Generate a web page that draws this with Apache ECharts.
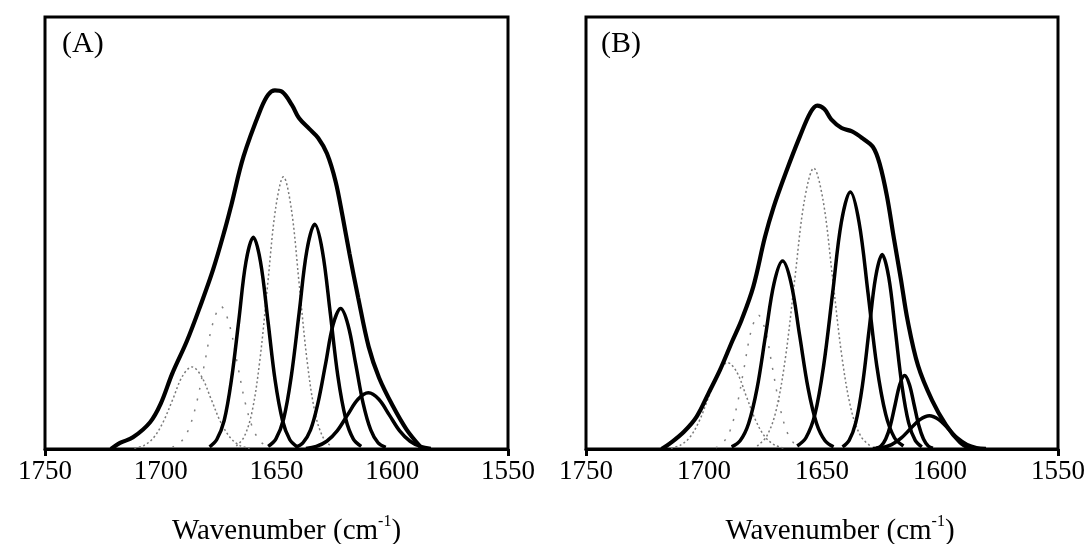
<!DOCTYPE html>
<html>
<head>
<meta charset="utf-8">
<script src="https://cdn.jsdelivr.net/npm/echarts@6/dist/echarts.min.js"></script>
<style>html,body{margin:0;padding:0;background:#fff}#c{width:1087px;height:544px}</style>
</head>
<body>
<div id="c"></div>
<script>
// ---- data (wavenumber, relative absorbance) ----
const xTicks = [1750, 1700, 1650, 1600, 1550];
const panelLabels = ['(A)', '(B)'];
const axisTitle = ['Wavenumber (cm', '-1', ')'];

// Panel A
const aEnvelope = [[1721.5,0],[1717.6,0.014],[1712,0.027],[1704.6,0.062],[1700,0.105],[1695,0.175],[1688.7,0.25],[1683,0.33],[1677.4,0.415],[1672.2,0.51],[1669.5,0.565],[1664.3,0.676],[1656.7,0.788],[1653.6,0.82],[1650.7,0.83],[1647.6,0.827],[1643.3,0.796],[1640.3,0.766],[1635.8,0.741],[1632,0.72],[1628.2,0.684],[1624.5,0.62],[1621.5,0.54],[1618.5,0.453],[1614.7,0.35],[1610.2,0.237],[1605.7,0.165],[1599.8,0.10],[1593.8,0.045],[1587.8,0.005]];
const aBand1686 = [[1711.4,0.002],[1707.3,0.008],[1703.1,0.026],[1699.0,0.062],[1694.8,0.115],[1690.7,0.168],[1686.5,0.19],[1682.4,0.168],[1678.2,0.115],[1674.1,0.062],[1669.9,0.026],[1665.8,0.008],[1661.6,0.002]];
const aBand1674 = [[1695,0.004],[1691.5,0.015],[1688,0.045],[1684.5,0.107],[1681,0.2],[1677.5,0.291],[1674,0.33],[1670.5,0.291],[1667,0.2],[1663.5,0.107],[1660,0.045],[1656.5,0.015],[1653,0.004]];
const aBand1660 = [[1678.9,0.005],[1675.8,0.022],[1672.6,0.066],[1669.5,0.159],[1666.3,0.297],[1663.2,0.433],[1660,0.49],[1656.9,0.433],[1653.7,0.297],[1650.6,0.159],[1647.4,0.066],[1644.3,0.022],[1641.1,0.005]];
const aBand1647 = [[1667.4,0.007],[1664,0.028],[1660.6,0.085],[1657.2,0.205],[1653.8,0.382],[1650.4,0.556],[1647,0.63],[1643.6,0.556],[1640.2,0.382],[1636.8,0.205],[1633.4,0.085],[1630,0.028],[1626.6,0.007]];
const aBand1633 = [[1653.6,0.006],[1650.3,0.023],[1646.9,0.070],[1643.6,0.169],[1640.2,0.316],[1636.9,0.459],[1633.5,0.52],[1630.2,0.459],[1626.8,0.316],[1623.5,0.169],[1620.1,0.070],[1616.8,0.023],[1613.4,0.006]];
const aBand1622 = [[1641.8,0.004],[1638.6,0.014],[1635.3,0.044],[1632.1,0.106],[1628.8,0.197],[1625.6,0.287],[1622.3,0.325],[1619.1,0.287],[1615.8,0.197],[1612.6,0.106],[1609.3,0.044],[1606.1,0.014],[1602.8,0.004]];
const aBand1610 = [[1637.3,0.001],[1632.8,0.006],[1628.3,0.018],[1623.8,0.042],[1619.3,0.079],[1614.8,0.115],[1610.3,0.13],[1605.8,0.115],[1601.3,0.079],[1596.8,0.042],[1592.3,0.018],[1587.8,0.006],[1583.3,0.001]];

// Panel B
const bEnvelope = [[1718,0],[1714.4,0.013],[1708.5,0.04],[1703.1,0.075],[1698,0.13],[1693.2,0.183],[1688,0.25],[1684,0.3],[1679.1,0.376],[1674.2,0.49],[1670.5,0.56],[1665.3,0.64],[1659.4,0.723],[1654.9,0.779],[1652,0.795],[1649,0.787],[1646.1,0.763],[1641.7,0.743],[1637.3,0.735],[1632.8,0.719],[1628.4,0.699],[1625.5,0.659],[1622.5,0.586],[1619.6,0.49],[1616.6,0.394],[1613.7,0.297],[1609.3,0.193],[1603.3,0.112],[1597.5,0.056],[1591.6,0.016],[1587.1,0]];
const bBand1690 = [[1714,0.002],[1710,0.009],[1706,0.027],[1702,0.065],[1698,0.121],[1694,0.177],[1690,0.2],[1686,0.177],[1682,0.121],[1678,0.065],[1674,0.027],[1670,0.009],[1666,0.002]];
const bBand1677 = [[1695,0.003],[1692,0.014],[1689,0.042],[1686,0.101],[1683,0.188],[1680,0.274],[1677,0.31],[1674,0.274],[1671,0.188],[1668,0.101],[1665,0.042],[1662,0.014],[1659,0.003]];
const bBand1667 = [[1688.3,0.005],[1684.7,0.019],[1681.1,0.059],[1677.5,0.141],[1673.9,0.264],[1670.3,0.384],[1666.7,0.435],[1663.1,0.384],[1659.5,0.264],[1655.9,0.141],[1652.3,0.059],[1648.7,0.019],[1645.1,0.005]];
const bBand1653 = [[1677.5,0.007],[1673.5,0.029],[1669.5,0.088],[1665.5,0.211],[1661.5,0.395],[1657.5,0.574],[1653.5,0.65],[1649.5,0.574],[1645.5,0.395],[1641.5,0.211],[1637.5,0.088],[1633.5,0.029],[1629.5,0.007]];
const bBand1638 = [[1660.5,0.007],[1656.8,0.026],[1653,0.080],[1649.3,0.193],[1645.5,0.361],[1641.8,0.525],[1638,0.595],[1634.3,0.525],[1630.5,0.361],[1626.8,0.193],[1623,0.080],[1619.3,0.026],[1615.5,0.007]];
const bBand1624 = [[1641.3,0.005],[1638.5,0.020],[1635.7,0.061],[1632.9,0.146],[1630.1,0.273],[1627.3,0.397],[1624.5,0.45],[1621.7,0.397],[1618.9,0.273],[1616.1,0.146],[1613.3,0.061],[1610.5,0.020],[1607.7,0.005]];
const bBand1615 = [[1627,0.002],[1625,0.007],[1623,0.023],[1621,0.055],[1619,0.103],[1617,0.150],[1615,0.17],[1613,0.150],[1611,0.103],[1609,0.055],[1607,0.023],[1605,0.007],[1603,0.002]];
const bBand1605 = [[1628.5,0.001],[1624.5,0.003],[1620.5,0.010],[1616.5,0.025],[1612.5,0.047],[1608.5,0.068],[1604.5,0.077],[1600.5,0.068],[1596.5,0.047],[1592.5,0.025],[1588.5,0.010],[1584.5,0.003],[1580.5,0.001]];

// ---- styling / building ----
const SERIF = "'Liberation Serif','Times New Roman',serif";
const chart = echarts.init(document.getElementById('c'), null, {renderer: 'canvas'});

const thick = {color: '#000', width: 3.5};
const envStyle = {color: '#000', width: 4.2};
const dotStyle = {color: '#7a7a7a', width: 1.5, type: [2, 2.5]};
const sparseStyle = {color: '#808080', width: 1.5, type: [2, 9]};

function line(data, idx, style, z) {
  return {type: 'line', data: data, xAxisIndex: idx, yAxisIndex: idx, showSymbol: false, symbol: 'none',
    smooth: 0.35, lineStyle: style, z: z || 2, clip: true, silent: true};
}

const grids = [
  {left: 45, top: 17, width: 463, height: 432},
  {left: 586, top: 17, width: 472, height: 432}
];

function xAx(i, shift) {
  return {
    type: 'value', gridIndex: i, min: 1550, max: 1750, interval: 50, inverse: true,
    axisLine: {show: true, lineStyle: {color: '#000', width: 3}},
    axisTick: {show: true, customValues: [1550, 1750], length: 7, lineStyle: {color: '#000', width: 3}},
    axisLabel: {color: '#000', fontFamily: SERIF, fontSize: 27, margin: 9, customValues: xTicks,
      formatter: function (v) { return String(v); }},
    splitLine: {show: false},
    name: '{t|' + axisTitle[0] + '}{s|' + axisTitle[1] + '}{t|' + axisTitle[2] + '}',
    nameLocation: 'middle', nameGap: 65,
    nameTextStyle: {
      padding: [0, 0, 0, shift],
      rich: {
        t: {fontFamily: SERIF, fontSize: 29, color: '#000', lineHeight: 32, verticalAlign: 'bottom'},
        s: {fontFamily: SERIF, fontSize: 16, color: '#000', lineHeight: 32, verticalAlign: 'top'}
      }
    }
  };
}
function yAx(i) {
  return {type: 'value', gridIndex: i, min: 0, max: 1, show: false, splitLine: {show: false}};
}

const option = {
  animation: false,
  backgroundColor: '#fff',
  title: [
    {text: panelLabels[0], left: 62, top: 29, padding: 0, textStyle: {fontFamily: SERIF, fontSize: 30, fontWeight: 'normal', color: '#000'}},
    {text: panelLabels[1], left: 601, top: 29, padding: 0, textStyle: {fontFamily: SERIF, fontSize: 30, fontWeight: 'normal', color: '#000'}}
  ],
  grid: grids.map(g => Object.assign({show: true, borderColor: '#000', borderWidth: 3, backgroundColor: 'transparent', containLabel: false, outerBoundsMode: 'none'}, g)),
  xAxis: [xAx(0, 20), xAx(1, 36)],
  yAxis: [yAx(0), yAx(1)],
  series: [
    line(aBand1686, 0, dotStyle),
    line(aBand1674, 0, sparseStyle),
    line(aBand1647, 0, dotStyle),
    line(aBand1660, 0, thick, 3),
    line(aBand1633, 0, thick, 3),
    line(aBand1622, 0, thick, 3),
    line(aBand1610, 0, thick, 3),
    line(aEnvelope, 0, envStyle, 4),
    line(bBand1690, 1, dotStyle),
    line(bBand1677, 1, sparseStyle),
    line(bBand1653, 1, dotStyle),
    line(bBand1667, 1, thick, 3),
    line(bBand1638, 1, thick, 3),
    line(bBand1624, 1, thick, 3),
    line(bBand1615, 1, thick, 3),
    line(bBand1605, 1, thick, 3),
    line(bEnvelope, 1, envStyle, 4)
  ]
};
chart.setOption(option);
</script>
</body>
</html>
